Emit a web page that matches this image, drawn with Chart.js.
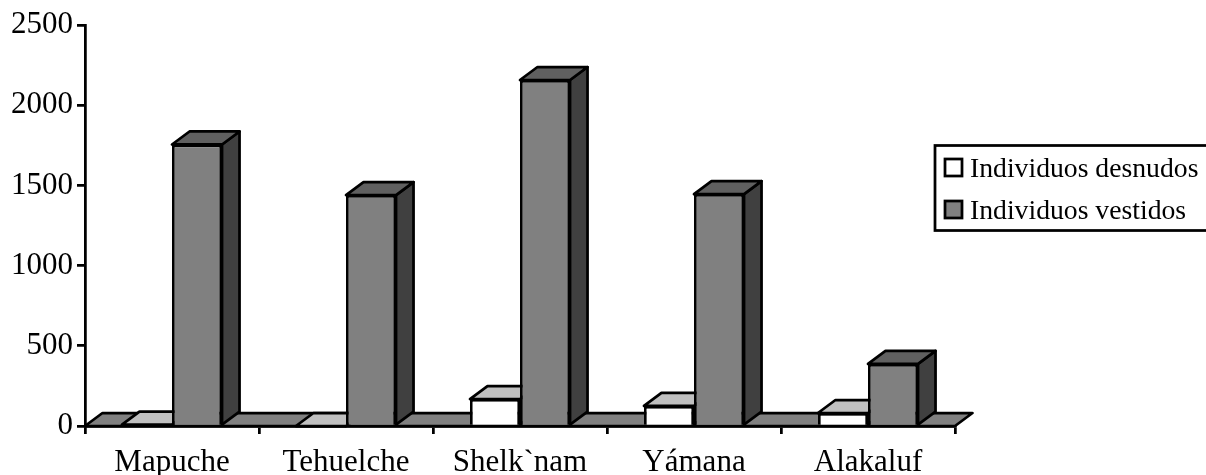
<!DOCTYPE html>
<html>
<head>
<meta charset="utf-8">
<style>
  html, body { margin: 0; padding: 0; background: #fff; overflow: hidden; }
  canvas { display: block; }
</style>
<script src="https://cdn.jsdelivr.net/npm/chart.js@4"></script>
</head>
<body>
<canvas id="chart" width="1206" height="475"></canvas>
<script>
const categories = ["Mapuche", "Tehuelche", "Shelk`nam", "Yámana", "Alakaluf"];
const desnudos = [8, 0, 168, 125, 81];
const vestidos = [1755, 1440, 2157, 1446, 387];
const serieLabels = ["Individuos desnudos", "Individuos vestidos"];

const FONT = '"Liberation Serif", "Times New Roman", serif';
const DX = 17.5, DY = 13, LINE = 2.75;

function face(ctx, pts, fill) {
    ctx.beginPath();
    pts.forEach((p, i) => i ? ctx.lineTo(p[0], p[1]) : ctx.moveTo(p[0], p[1]));
    ctx.closePath();
    ctx.fillStyle = fill;
    ctx.fill();
    ctx.stroke();
}

// floor and the top/side faces of the bars, the front face comes from Chart.js
const fake3d = {
    id: "fake3d",
    beforeDatasetsDraw(chart) {
        const ctx = chart.ctx;
        const { left, right, bottom } = chart.chartArea;
        ctx.save();
        ctx.lineWidth = LINE;
        ctx.strokeStyle = "#000";
        ctx.lineJoin = "round";
        face(ctx, [[left, bottom], [right, bottom], [right + DX, bottom - DY], [left + DX, bottom - DY]], "#808080");
        const tops = ["#c0c0c0", "#606060"];
        const sides = ["#808080", "#404040"];
        chart.data.datasets.forEach((ds, d) => {
            chart.getDatasetMeta(d).data.forEach(bar => {
                const l = bar.x - bar.width / 2, r = bar.x + bar.width / 2;
                const y = bar.y, b = bar.base;
                face(ctx, [[r, b], [r + DX, b - DY], [r + DX, y - DY], [r, y]], sides[d]);
                face(ctx, [[l, y], [r, y], [r + DX, y - DY], [l + DX, y - DY]], tops[d]);
            });
        });
        ctx.restore();
    }
};

// legend sits partly off the right edge in the original, so it is drawn by hand
const boxLegend = {
    id: "boxLegend",
    afterDraw(chart) {
        const ctx = chart.ctx;
        ctx.save();
        ctx.lineWidth = LINE;
        ctx.strokeStyle = "#000";
        ctx.strokeRect(935, 145.5, 290, 85);
        ctx.font = "27.7px " + FONT;
        ctx.textBaseline = "alphabetic";
        chart.data.datasets.forEach((ds, i) => {
            const y = 159 + i * 42;
            ctx.fillStyle = ds.backgroundColor;
            ctx.fillRect(945, y, 17, 17);
            ctx.strokeRect(945, y, 17, 17);
            ctx.fillStyle = "#000";
            ctx.fillText(ds.label, 970, y + 18);
        });
        ctx.restore();
    }
};

new Chart(document.getElementById("chart").getContext("2d"), {
    type: "bar",
    data: {
        labels: categories,
        datasets: [
            { label: serieLabels[0], data: desnudos, backgroundColor: "#ffffff", borderColor: "#000", borderWidth: LINE },
            { label: serieLabels[1], data: vestidos, backgroundColor: "#808080", borderColor: "#000", borderWidth: LINE }
        ]
    },
    options: {
        responsive: false,
        animation: false,
        layout: { padding: { top: 25, right: 251, left: 0, bottom: 0 } },
        datasets: { bar: { categoryPercentage: 0.575, barPercentage: 1 } },
        plugins: { legend: { display: false }, tooltip: { enabled: false } },
        scales: {
            x: {
                afterFit(scale) { scale.height = 49; },
                border: { color: "#000", width: LINE },
                grid: { drawOnChartArea: false, color: "#000", lineWidth: LINE, tickLength: 8, offset: true },
                ticks: { color: "#000", font: { family: FONT, size: 31 }, padding: 10, maxRotation: 0 }
            },
            y: {
                min: 0,
                max: 2500,
                afterFit(scale) { scale.width = 85; },
                border: { color: "#000", width: LINE },
                grid: { drawOnChartArea: false, color: "#000", lineWidth: LINE, tickLength: 8 },
                ticks: { color: "#000", font: { family: FONT, size: 31 }, stepSize: 500, padding: 4, callback: v => String(v) }
            }
        }
    },
    plugins: [fake3d, boxLegend]
});
</script>
</body>
</html>
